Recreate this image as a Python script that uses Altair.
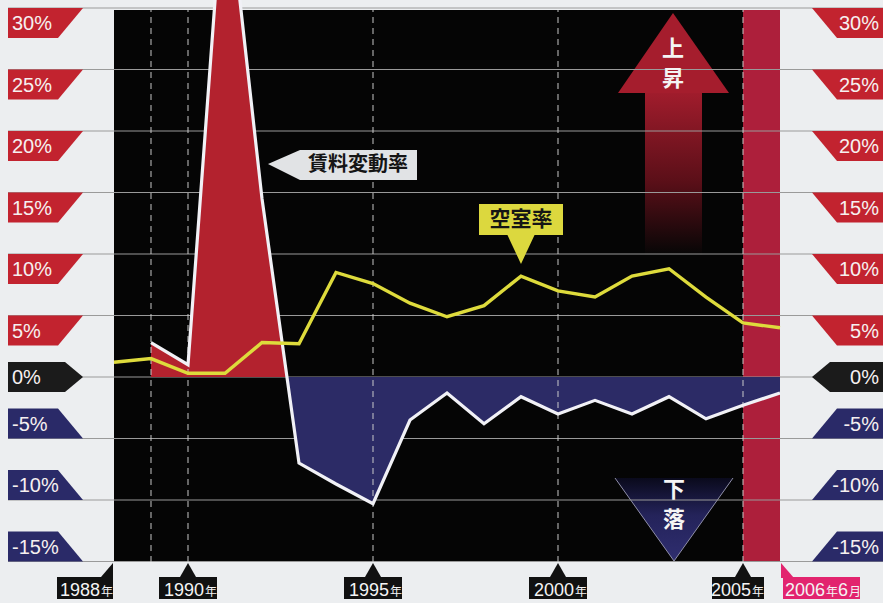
import altair as alt
import pandas as pd

# ---------------- data ----------------
years = list(range(1988, 2007))  # last point (2006) = June 2006
vacancy_rate = [1.2, 1.5, 0.3, 0.3, 2.8, 2.7, 8.5, 7.6, 6.0, 4.9, 5.8, 8.2, 7.0, 6.5, 8.2, 8.8, 6.5, 4.4, 4.0]
rent_years = list(range(1989, 2007))
rent_change = [2.8, 1.0, 41.5, 14.5, -7.0, -8.7, -10.3, -3.5, -1.3, -3.8, -1.6, -3.0, -1.9, -3.0, -1.6, -3.4, -2.3, -1.3]
y_ticks = [30, 25, 20, 15, 10, 5, 0, -5, -10, -15]
y_tick_labels = ["30%", "25%", "20%", "15%", "10%", "5%", "0%", "-5%", "-10%", "-15%"]
x_label_years = [1988, 1990, 1995, 2000, 2005, 2006]
x_label_main = ["1988", "1990", "1995", "2000", "2005", "2006"]
dashed_years = [1989, 1990, 1995, 2000, 2005]
highlight = [2005, 2006]

# ---------------- layout ----------------
W, H = 883, 603
X0, PXY = 114, 37.0      # pixel of 1988, pixels per year
Y0, PXP = 377, 12.3      # pixel of 0 %, pixels per percent


def ux(px):
    return 1988 + (px - X0) / PXY


def uy(py):
    return (Y0 - py) / PXP


def pxx(yr):
    return X0 + (yr - 1988) * PXY


XS = alt.Scale(domain=[ux(0), ux(W)], nice=False, zero=False)
YS = alt.Scale(domain=[uy(H), uy(0)], nice=False, zero=False)


def X(f):
    return alt.X(f"{f}:Q", scale=XS, axis=None)


def Y(f):
    return alt.Y(f"{f}:Q", scale=YS, axis=None, stack=None)


BG = "#eceef0"
BLACK = "#050505"
BAND = "#ad1f3b"
RED_FILL = "#b3222e"
NAVY_FILL = "#2c2b66"
RED_TAG = "#c2232f"
NAVY_TAG = "#2a2a68"
BLACK_TAG = "#1b1b1b"
YELLOW = "#dedb3c"
GRID = "#9a9a9a"
PINK = "#e2246e"
NUMFONT = "Liberation Sans, Arial, sans-serif"
JPFONT = "Noto Sans CJK JP"

PLOT_TOP = uy(10)
PLOT_BOT = uy(562)

layers = []

# plot background and highlighted last period
layers.append(alt.Chart(pd.DataFrame({"x": [1988], "x2": [highlight[0]], "y": [PLOT_BOT], "y2": [PLOT_TOP]}))
              .mark_rect(color=BLACK).encode(x=X("x"), x2="x2", y=Y("y"), y2="y2"))
layers.append(alt.Chart(pd.DataFrame({"x": [highlight[0]], "x2": [highlight[1]], "y": [PLOT_BOT], "y2": [PLOT_TOP]}))
              .mark_rect(color=BAND).encode(x=X("x"), x2="x2", y=Y("y"), y2="y2"))

# up arrow (上昇)
shaft_grad = alt.Gradient(gradient="linear", x1=0, x2=0, y1=0, y2=1,
                          stops=[alt.GradientStop(color="#a01c2c", offset=0),
                                 alt.GradientStop(color="#5a0f18", offset=0.55),
                                 alt.GradientStop(color="#060606", offset=1)])
layers.append(alt.Chart(pd.DataFrame({"x": [ux(645)], "x2": [ux(702)], "y": [uy(93)], "y2": [uy(255)]}))
              .mark_rect(color=shaft_grad).encode(x=X("x"), x2="x2", y=Y("y"), y2="y2"))
layers.append(alt.Chart(pd.DataFrame({"x": [ux(618), ux(673), ux(729)],
                                      "y": [uy(93)] * 3,
                                      "y2": [uy(93), uy(13), uy(93)]}))
              .mark_area(color="#a51d2d", interpolate="linear").encode(x=X("x"), y=Y("y"), y2="y2"))

# down triangle (下落)
tri_grad = alt.Gradient(gradient="linear", x1=0, x2=0, y1=0, y2=1,
                        stops=[alt.GradientStop(color="#0a0a1c", offset=0),
                               alt.GradientStop(color="#24235a", offset=0.45),
                               alt.GradientStop(color="#2f2e70", offset=1)])
tri_df = pd.DataFrame({"x": [ux(615), ux(674), ux(733)],
                       "y": [uy(478)] * 3,
                       "y2": [uy(478), uy(561), uy(478)]})
layers.append(alt.Chart(tri_df).mark_area(color=tri_grad, interpolate="linear")
              .encode(x=X("x"), y=Y("y"), y2="y2"))
layers.append(alt.Chart(pd.DataFrame({"x": [ux(615), ux(674), ux(733)], "y": [uy(478), uy(561), uy(478)], "o": [0, 1, 2]}))
              .mark_line(color="#8f8fa8", strokeWidth=1).encode(x=X("x"), y=Y("y"), order="o:Q"))

# horizontal grid lines
layers.append(alt.Chart(pd.DataFrame({"y": y_ticks, "x": ux(8), "x2": ux(W)}))
              .mark_rule(color=GRID, strokeWidth=1).encode(x=X("x"), x2="x2", y=Y("y")))

# rent change area, split at the zero line
pts = []
for i, (yr, v) in enumerate(zip(rent_years, rent_change)):
    if i > 0:
        pv = rent_change[i - 1]
        if (pv > 0 > v) or (pv < 0 < v):
            t = pv / (pv - v)
            pts.append((rent_years[i - 1] + t, 0.0))
    pts.append((yr, v))
area_df = pd.DataFrame({"x": [p[0] for p in pts],
                        "pos": [max(p[1], 0.0) for p in pts],
                        "neg": [min(p[1], 0.0) for p in pts],
                        "zero": 0.0})
layers.append(alt.Chart(area_df).mark_area(color=RED_FILL, interpolate="linear")
              .encode(x=X("x"), y=Y("pos"), y2="zero"))
layers.append(alt.Chart(area_df).mark_area(color=NAVY_FILL, interpolate="linear")
              .encode(x=X("x"), y=Y("neg"), y2="zero"))

# dashed year lines
layers.append(alt.Chart(pd.DataFrame({"x": dashed_years, "y": PLOT_BOT, "y2": PLOT_TOP}))
              .mark_rule(color="#cfcfcf", strokeWidth=1.2, strokeDash=[6, 5], opacity=0.8)
              .encode(x=X("x"), y=Y("y"), y2="y2"))

# rent line (white) and vacancy line (yellow)
layers.append(alt.Chart(pd.DataFrame({"x": rent_years, "y": rent_change}))
              .mark_line(color="#f1f1f6", strokeWidth=3.2).encode(x=X("x"), y=Y("y")))
layers.append(alt.Chart(pd.DataFrame({"x": years, "y": vacancy_rate}))
              .mark_line(color=YELLOW, strokeWidth=3.4).encode(x=X("x"), y=Y("y")))

# callout: 賃料変動率
layers.append(alt.Chart(pd.DataFrame({"x": [ux(268), ux(300), ux(417)],
                                      "y": [uy(164), uy(150), uy(150)],
                                      "y2": [uy(164), uy(180), uy(180)]}))
              .mark_area(color="#e1e3e5", interpolate="linear").encode(x=X("x"), y=Y("y"), y2="y2"))
layers.append(alt.Chart(pd.DataFrame({"x": [ux(358)], "y": [uy(165)], "t": ["賃料変動率"]}))
              .mark_text(font=JPFONT, fontSize=20, fontWeight="bold", color="#151515", align="center", baseline="middle")
              .encode(x=X("x"), y=Y("y"), text="t:N"))

# callout: 空室率
layers.append(alt.Chart(pd.DataFrame({"x": [ux(479)], "x2": [ux(563)], "y": [uy(204)], "y2": [uy(235)]}))
              .mark_rect(color="#dcd83e").encode(x=X("x"), x2="x2", y=Y("y"), y2="y2"))
layers.append(alt.Chart(pd.DataFrame({"x": [ux(507), ux(521), ux(535)],
                                      "y": [uy(234)] * 3,
                                      "y2": [uy(234), uy(264), uy(234)]}))
              .mark_area(color="#dcd83e", interpolate="linear").encode(x=X("x"), y=Y("y"), y2="y2"))
layers.append(alt.Chart(pd.DataFrame({"x": [ux(521)], "y": [uy(220)], "t": ["空室率"]}))
              .mark_text(font=JPFONT, fontSize=21, fontWeight="bold", color="#151515", align="center", baseline="middle")
              .encode(x=X("x"), y=Y("y"), text="t:N"))

# arrow / triangle words
layers.append(alt.Chart(pd.DataFrame({"x": [ux(673), ux(673), ux(674), ux(674)],
                                      "y": [uy(49), uy(79), uy(490), uy(520)],
                                      "t": ["上", "昇", "下", "落"]}))
              .mark_text(font=JPFONT, fontSize=22, fontWeight="bold", color="#f4f4f4", align="center", baseline="middle")
              .encode(x=X("x"), y=Y("y"), text="t:N"))

# y tags (both sides)
TAG_H = 30 / PXP
tag_rows, tag_text_l, tag_text_r = [], [], []
for t, lab in zip(y_ticks, y_tick_labels):
    fill = RED_TAG if t > 0 else (NAVY_TAG if t < 0 else BLACK_TAG)
    if t > 0:
        lpts = [(8, t, t - TAG_H), (58, t, t - TAG_H), (83, t, t)]
        rpts = [(812, t, t), (837, t, t - TAG_H), (W, t, t - TAG_H)]
        c = t - TAG_H / 2
    elif t < 0:
        lpts = [(8, t + TAG_H, t), (58, t + TAG_H, t), (83, t, t)]
        rpts = [(812, t, t), (837, t + TAG_H, t), (W, t + TAG_H, t)]
        c = t + TAG_H / 2
    else:
        lpts = [(8, t + TAG_H / 2, t - TAG_H / 2), (65, t + TAG_H / 2, t - TAG_H / 2), (83, t, t)]
        rpts = [(812, t, t), (830, t + TAG_H / 2, t - TAG_H / 2), (W, t + TAG_H / 2, t - TAG_H / 2)]
        c = t
    for side, ps in (("L", lpts), ("R", rpts)):
        for px, a, b in ps:
            tag_rows.append({"id": f"{side}{t}", "x": ux(px), "y": a, "y2": b, "fill": fill})
    tag_text_l.append({"x": ux(12), "y": c, "t": lab})
    tag_text_r.append({"x": ux(879), "y": c, "t": lab})

layers.append(alt.Chart(pd.DataFrame(tag_rows)).mark_area(interpolate="linear")
              .encode(x=X("x"), y=Y("y"), y2="y2", detail="id:N", color=alt.Color("fill:N", scale=None)))
layers.append(alt.Chart(pd.DataFrame(tag_text_l))
              .mark_text(font=NUMFONT, fontSize=20, color="#f6f0f0", align="left", baseline="middle", dy=1)
              .encode(x=X("x"), y=Y("y"), text="t:N"))
layers.append(alt.Chart(pd.DataFrame(tag_text_r))
              .mark_text(font=NUMFONT, fontSize=20, color="#f6f0f0", align="right", baseline="middle", dy=1)
              .encode(x=X("x"), y=Y("y"), text="t:N"))

# x labels
box_off = {1988: (-57, -1), 2005: (-31, 21), 2006: (3, 80)}
box_rows, ptr_rows, num_rows, suf_rows = [], [], [], []
for yr, main in zip(x_label_years, x_label_main):
    p = pxx(yr)
    l, r = box_off.get(yr, (-29, 29))
    fill = PINK if yr == 2006 else "#111111"
    box_rows.append({"x": ux(p + l), "x2": ux(p + r), "y": uy(577), "y2": uy(599), "fill": fill})
    if yr == 1988:
        pp = [(p - 13, 577, 577), (p - 1, 563, 577)]
    elif yr == 2006:
        pp = [(p + 1, 563, 578), (p + 14, 578, 578)]
    else:
        pp = [(p - 8, 577, 577), (p, 563, 577), (p + 8, 577, 577)]
    for px, a, b in pp:
        ptr_rows.append({"id": str(yr), "x": ux(px), "y": uy(a), "y2": uy(b), "fill": fill})
    if yr == 2006:
        a = p + 45
        num_rows.append({"x": ux(a), "y": uy(596), "t": main})
        suf_rows.append({"x": ux(a + 1), "y": uy(596), "t": "年"})
        num_rows.append({"x": ux(a + 23), "y": uy(596), "t": "6"})
        suf_rows.append({"x": ux(a + 24), "y": uy(596), "t": "月"})
    else:
        a = p + r - 13
        num_rows.append({"x": ux(a), "y": uy(596), "t": main})
        suf_rows.append({"x": ux(a + 1), "y": uy(596), "t": "年"})

layers.append(alt.Chart(pd.DataFrame(box_rows)).mark_rect()
              .encode(x=X("x"), x2="x2", y=Y("y"), y2="y2", color=alt.Color("fill:N", scale=None)))
layers.append(alt.Chart(pd.DataFrame(ptr_rows)).mark_area(interpolate="linear")
              .encode(x=X("x"), y=Y("y"), y2="y2", detail="id:N", color=alt.Color("fill:N", scale=None)))
layers.append(alt.Chart(pd.DataFrame(num_rows))
              .mark_text(font=NUMFONT, fontSize=18, color="#f4f4f4", align="right", baseline="alphabetic")
              .encode(x=X("x"), y=Y("y"), text="t:N"))
layers.append(alt.Chart(pd.DataFrame(suf_rows))
              .mark_text(font=JPFONT, fontSize=12, color="#f4f4f4", align="left", baseline="alphabetic")
              .encode(x=X("x"), y=Y("y"), text="t:N"))

chart = (alt.layer(*layers)
         .properties(width=W, height=H, padding=0, autosize=alt.AutoSizeParams(type="none"), background=BG)
         .configure_view(strokeWidth=0))

chart.save("out.html", embed_options={"renderer": "svg", "actions": False})
